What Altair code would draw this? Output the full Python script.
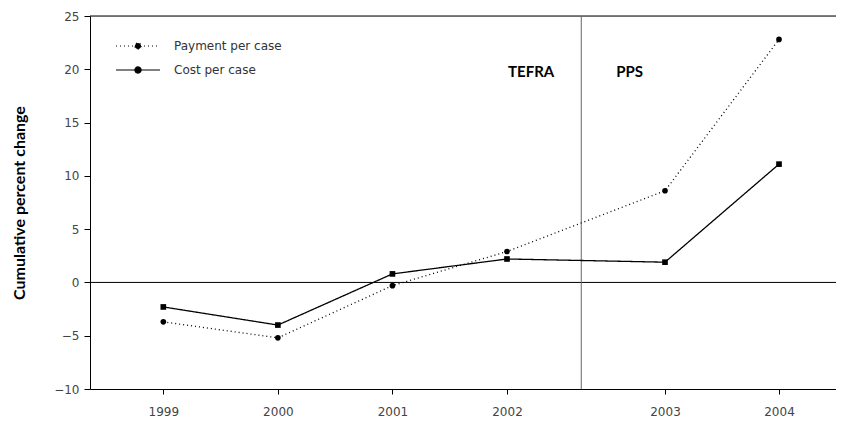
import altair as alt
import pandas as pd

years = [1999, 2000, 2001, 2002, 2003, 2004]
payment = [-3.7, -5.2, -0.3, 2.9, 8.6, 22.8]
cost = [-2.3, -4.0, 0.8, 2.2, 1.9, 11.1]
series_names = ["Payment per case", "Cost per case"]
marker_shapes = ["circle", "square"]
y_ticks = [-10, -5, 0, 5, 10, 15, 20, 25]
policy_break = 2002.47
policy_labels = ["TEFRA", "PPS"]
policy_label_y = 19.7

rows = []
for i, yr in enumerate(years):
    rows.append({"year": yr, "series": series_names[0], "value": payment[i]})
    rows.append({"year": yr, "series": series_names[1], "value": cost[i]})
df = pd.DataFrame(rows)

FONT = "DejaVu Sans"
BOLD = "Lato"

x_scale = alt.Scale(domain=[1998.36, 2002, 2003, 2004.5], range=[0, 417, 575, 746],
                    nice=False, zero=False)
y_scale = alt.Scale(domain=[-10, 25], nice=False, zero=False)

x_enc = alt.X("year:Q", scale=x_scale,
              axis=alt.Axis(values=years, format="d", title=None, grid=False,
                            tickSize=5, labelPadding=12, labelFontSize=12,
                            labelColor="#444", domainColor="black", tickColor="black",
                            labelFont=FONT))
y_enc = alt.Y("value:Q", scale=y_scale,
              axis=alt.Axis(values=y_ticks, title="Cumulative percent change", grid=False,
                            tickSize=6, labelPadding=5, labelFontSize=12,
                            labelColor="#444", domainColor="black", tickColor="black",
                            titleFontSize=16, titleFontWeight="bold", titleFont=BOLD,
                            titleColor="black", titlePadding=26, labelFont=FONT))

legend_symbol = ("M-3,0H3M0.42,0A0.42,0.42,0,1,1,-0.42,0"
                 "A0.42,0.42,0,1,1,0.42,0")

lines = alt.Chart(df).mark_line(color="black", strokeWidth=1.3).encode(
    x=x_enc,
    y=y_enc,
    strokeDash=alt.StrokeDash("series:N",
                              scale=alt.Scale(domain=series_names, range=[[1, 3], [1, 0]]),
                              legend=alt.Legend(title=None, orient="none", legendX=40, legendY=22,
                                                symbolType=legend_symbol, symbolSize=215,
                                                symbolFillColor="black", symbolStrokeColor="black",
                                                symbolStrokeWidth=1.2, labelFontSize=12,
                                                labelColor="#333", labelFont=FONT,
                                                labelOffset=28, rowPadding=10)),
    detail="series:N",
)

point_layers = []
for name, shp in zip(series_names, marker_shapes):
    point_layers.append(
        alt.Chart(df).transform_filter(alt.datum.series == name)
        .mark_point(filled=True, color="black", size=32, opacity=1, shape=shp)
        .encode(x=alt.X("year:Q", scale=x_scale), y=alt.Y("value:Q", scale=y_scale))
    )

top_rule = alt.Chart().mark_rule(color="black", strokeWidth=1.2).encode(y=alt.datum(25))
zero_rule = alt.Chart().mark_rule(color="black", strokeWidth=1).encode(y=alt.datum(0))
divider = alt.Chart().mark_rule(color="#666", strokeWidth=1).encode(x=alt.datum(policy_break))

tefra = alt.Chart().mark_text(text=policy_labels[0], align="right", baseline="middle",
                              dx=-27, fontWeight="bold", fontSize=15, font=BOLD,
                              color="black").encode(x=alt.datum(policy_break),
                                                    y=alt.datum(policy_label_y))
pps = alt.Chart().mark_text(text=policy_labels[1], align="left", baseline="middle",
                            dx=35, fontWeight="bold", fontSize=15, font=BOLD,
                            color="black").encode(x=alt.datum(policy_break),
                                                  y=alt.datum(policy_label_y))

chart = alt.layer(top_rule, zero_rule, divider, lines, *point_layers, tefra, pps).properties(
    width=746, height=373,
    autosize=alt.AutoSizeParams(type="none"),
    padding={"left": 82, "top": 8, "right": 0, "bottom": 35},
).configure_view(stroke=None).configure(font=FONT)

chart.save("out.html", embed_options={"renderer": "svg", "actions": False})
